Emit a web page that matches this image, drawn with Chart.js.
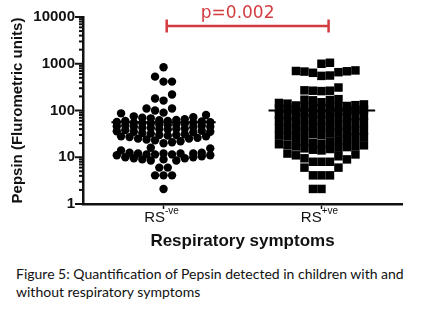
<!DOCTYPE html>
<html>
<head>
<meta charset="utf-8">
<script src="https://cdn.jsdelivr.net/npm/chart.js@4"></script>
<style>
  body { margin: 0; background: #fff; width: 425px; height: 331px; overflow: hidden; position: relative; }
  #wrap { position: absolute; left: 0; top: 0; width: 425px; height: 255px; }
  #legenda { position: absolute; left: 16px; top: 265px; font-family: Lato, sans-serif; font-size: 14px;
             line-height: 18px; color: #111; white-space: nowrap; }
</style>
</head>
<body>
<div id="wrap"><canvas id="pepsinaChart"></canvas></div>
<div id="legenda">Figure 5: Quantification of Pepsin detected in children with and<br>without respiratory symptoms</div>
<script>
// dados
const categorias = ['RS', 'RS'];
const sobrescritos = ['-ve', '+ve'];
const ticksY = [1, 10, 100, 1000, 10000];

const rsNegativo = [
  840, 530, 415, 415, 220, 180, 163, 110, 110, 100, 90, 87,
  80, 75, 72, 70, 68, 65, 63, 62, 60, 60, 58, 57, 56, 55, 55, 54, 53, 52, 50, 50, 49, 48,
  47, 46, 45, 45, 44, 43, 42, 41, 40, 40, 39, 38, 37, 36, 35, 35, 34, 33, 32, 31, 30, 30,
  29, 28, 28, 27, 26, 25, 25, 24, 23, 22, 21, 20,
  16, 15.5, 14, 12.5, 12.5, 12, 12, 12, 12, 11.5, 11.5, 11.5, 11, 11, 10.5, 10, 10,
  9.5, 9.5, 9, 9, 8.5, 8.5, 6, 6, 4.1, 4.1, 4.1, 2.1
];

const rsPositivo = [
  1050, 1000, 720, 700, 690, 680, 660, 640, 560, 550, 310, 270, 265, 265, 260, 175, 170, 168, 165,
  150, 145, 140, 135, 130, 128, 125, 122, 120, 118, 115, 112, 110, 108, 105, 102, 100, 98, 95,
  92, 90, 88, 85, 82, 80, 78, 76, 74, 72, 70, 68, 66, 64, 62, 60, 58, 56, 54, 52, 50, 48, 47,
  46, 45, 44, 42, 40, 38, 37, 36, 35, 34, 33, 32, 31, 30, 29, 28, 27, 26, 25, 24, 23, 22, 21,
  20, 19.5, 19, 18.5, 18, 17.5, 17, 16.5, 16, 15.5, 15, 14.5, 14,
  12, 11.5, 11, 10.5, 9.5, 9, 8, 8, 8, 6, 6, 4.1, 4.1, 4.1, 2.1, 2.1
];

const medianas = [56, 100];
const valorP = 'p=0.002';
const alturaColchete = 6400;

// espalhamento tipo "beeswarm" (so afasta os pontos na horizontal)
const PX_DECADA = 47, PX_CATEGORIA = 158, DIAM = 8.5, MEIA_LARGURA = 50;

function enxame(valores, centro, quadrado) {
  const colocados = [];
  const passo = quadrado ? DIAM : DIAM / 2;
  valores.slice().sort((a, b) => a - b).forEach((v, i) => {
    const py = Math.log10(v) * PX_DECADA;
    let melhor = 0, menor = Infinity;
    for (let k = 0; k * passo <= MEIA_LARGURA; k++) {
      const cands = k === 0 ? [0] : (i % 2 ? [-k * passo, k * passo] : [k * passo, -k * passo]);
      for (const px of cands) {
        let sob = 0;
        colocados.forEach(p => {
          const d = quadrado
            ? Math.max(Math.abs(p.px - px), Math.abs(p.py - py))
            : Math.hypot(p.px - px, p.py - py);
          if (d < DIAM) sob += DIAM - d;
        });
        if (sob < menor) { menor = sob; melhor = px; }
      }
      if (menor === 0) break;
    }
    colocados.push({ px: melhor, py, v });
  });
  return colocados.map(p => ({ x: centro + p.px / PX_CATEGORIA, y: p.v }));
}

const vermelho = '#d23c40';

const extras = {
  id: 'extras',
  afterDraw(chart) {
    const { ctx, scales: { x, y }, chartArea } = chart;
    ctx.save();
    // ticks do eixo log
    ctx.strokeStyle = '#111';
    ctx.lineWidth = 2;
    for (let d = 1; d <= 10000; d *= 10) {
      for (let k = 1; k <= 9; k++) {
        const v = d * k;
        if (v > 10000) break;
        const py = y.getPixelForValue(v);
        const len = k === 1 ? 8 : 4;
        ctx.beginPath();
        ctx.moveTo(chartArea.left - len, py);
        ctx.lineTo(chartArea.left, py);
        ctx.stroke();
      }
    }
    // rotulos do eixo x com sobrescrito
    ctx.fillStyle = '#111';
    ctx.textAlign = 'left';
    ctx.textBaseline = 'alphabetic';
    categorias.forEach((c, i) => {
      const px = x.getPixelForValue(i + 1);
      ctx.font = '15px "Liberation Sans"';
      const w1 = ctx.measureText(c).width;
      ctx.font = '10px "Liberation Sans"';
      const w2 = ctx.measureText(sobrescritos[i]).width;
      const x0 = px - 2 - (w1 + w2) / 2;
      ctx.font = '15px "Liberation Sans"';
      ctx.fillText(c, x0, chartArea.bottom + 18);
      ctx.font = '10px "Liberation Sans"';
      ctx.fillText(sobrescritos[i], x0 + w1, chartArea.bottom + 10);
    });
    // colchete do valor p
    const x1 = x.getPixelForValue(1.02), x2 = x.getPixelForValue(2.045);
    const yc = y.getPixelForValue(alturaColchete);
    ctx.strokeStyle = vermelho;
    ctx.lineWidth = 2.5;
    ctx.beginPath();
    ctx.moveTo(x1, yc); ctx.lineTo(x2, yc);
    ctx.moveTo(x1, yc - 6.5); ctx.lineTo(x1, yc + 6.5);
    ctx.moveTo(x2, yc - 6.5); ctx.lineTo(x2, yc + 6.5);
    ctx.stroke();
    ctx.fillStyle = vermelho;
    ctx.textAlign = 'center';
    ctx.font = '17px "DejaVu Sans"';
    ctx.fillText(valorP, (x1 + x2) / 2 - 10, 18);
    ctx.restore();
  }
};

const ctx = document.getElementById('pepsinaChart').getContext('2d');

window.pepsinaChart = new Chart(ctx, {
  type: 'scatter',
  data: {
    datasets: [
      {
        data: [{ x: 0.67, y: medianas[0] }, { x: 1.33, y: medianas[0] }],
        showLine: true, borderColor: '#000', borderWidth: 2, pointRadius: 0
      },
      {
        data: [{ x: 1.665, y: medianas[1] }, { x: 2.34, y: medianas[1] }],
        showLine: true, borderColor: '#000', borderWidth: 2, pointRadius: 0
      },
      {
        label: 'RS-ve',
        data: enxame(rsNegativo, 1, false),
        pointStyle: 'circle', pointRadius: 4.2, borderWidth: 0,
        backgroundColor: '#000', borderColor: '#000'
      },
      {
        label: 'RS+ve',
        data: enxame(rsPositivo, 2, true),
        pointStyle: 'rect', pointRadius: 6, borderWidth: 0,
        backgroundColor: '#000', borderColor: '#000'
      }
    ]
  },
  options: {
    responsive: true,
    maintainAspectRatio: false,
    animation: false,
    layout: { padding: { left: 0, right: 23, top: 16, bottom: 0 } },
    plugins: { legend: { display: false }, tooltip: { enabled: false } },
    scales: {
      x: {
        type: 'linear', min: 0.49, max: 2.51,
        afterBuildTicks: s => { s.ticks = [{ value: 1 }, { value: 2 }]; },
        ticks: { callback: () => '' },
        grid: { drawOnChartArea: false, tickLength: 5, tickWidth: 1.5, tickColor: '#111' },
        border: { color: '#111', width: 2.5 },
        title: {
          display: true, text: 'Respiratory symptoms', color: '#111',
          font: { family: 'Liberation Sans', weight: 'bold', size: 17 },
          padding: { top: 0, bottom: 3 }
        },
        afterFit: s => { s.height = 51; }
      },
      y: {
        type: 'logarithmic', min: 1, max: 10000,
        afterBuildTicks: s => { s.ticks = ticksY.map(v => ({ value: v })); },
        ticks: {
          color: '#111', padding: 8,
          font: { family: 'Liberation Sans', weight: 'bold', size: 15 },
          callback: v => String(v)
        },
        grid: { display: false, drawTicks: false },
        border: { color: '#111', width: 2.5 },
        title: {
          display: true, text: 'Pepsin (Flurometric units)', color: '#111',
          font: { family: 'Liberation Sans', weight: 'bold', size: 15 },
          padding: { top: 9, bottom: 0 }
        },
        afterFit: s => { s.width = 83; }
      }
    }
  },
  plugins: [extras]
});
</script>
</body>
</html>
